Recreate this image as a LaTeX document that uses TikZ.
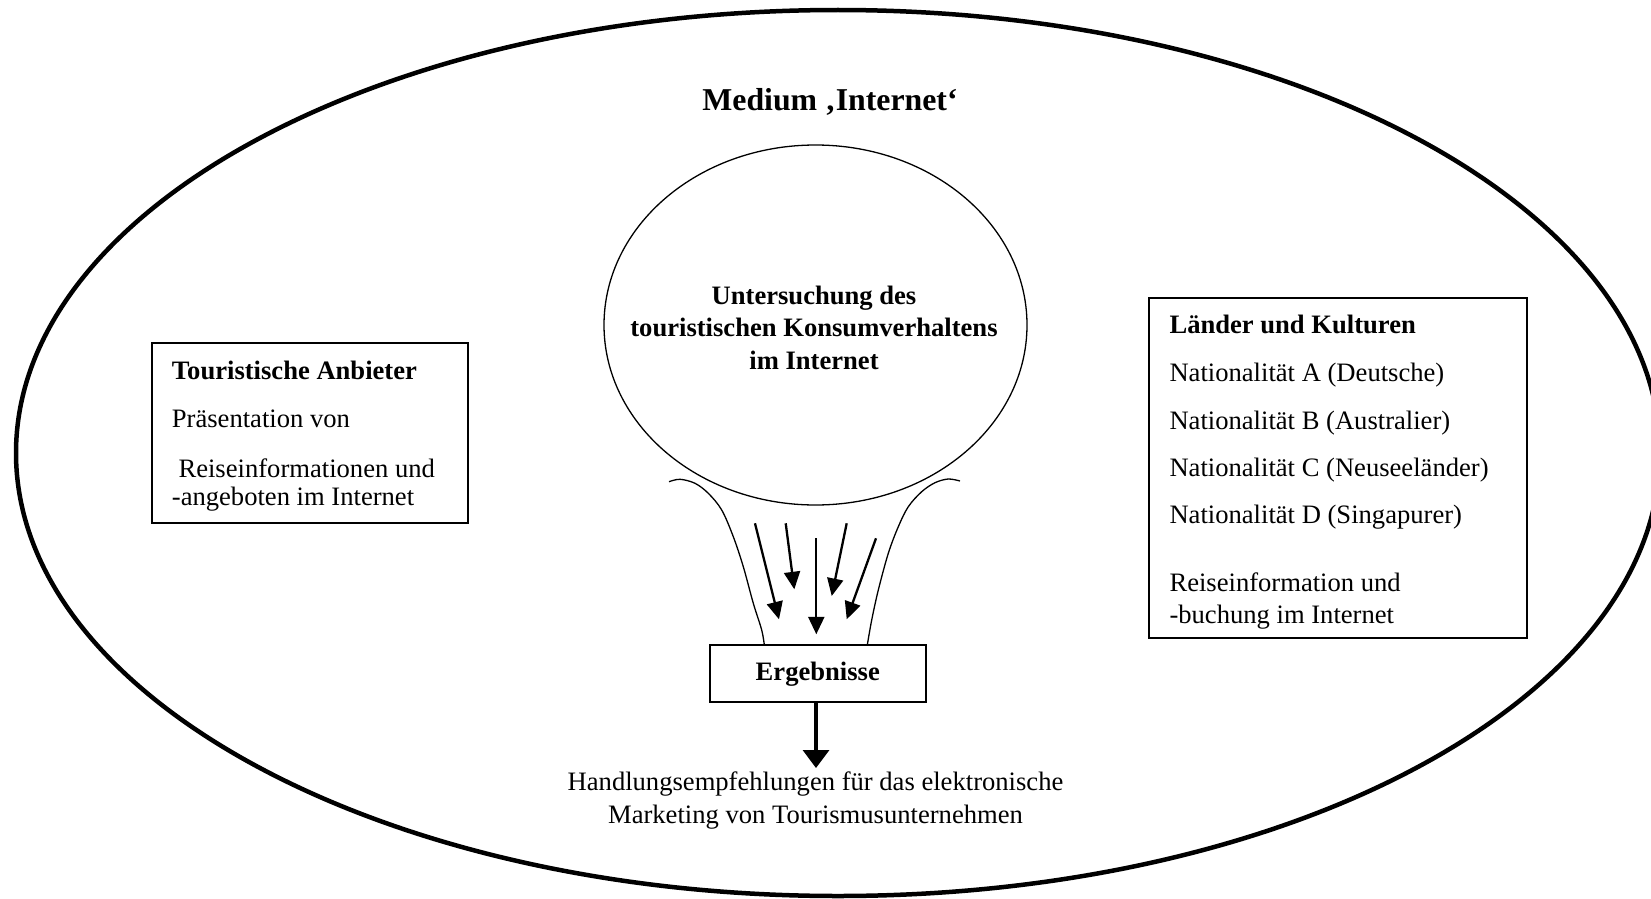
\documentclass[tikz,border=0pt]{standalone}
\usepackage{fontspec}
\setmainfont{Liberation Serif}
\usetikzlibrary{shapes.geometric,arrows.meta}

\begin{document}
\begin{tikzpicture}[x=1pt,y=-1pt,
  txt/.style={inner sep=0pt, font=\fontsize{26.6pt}{32.5pt}\selectfont},
  bold/.style={txt, font=\fontsize{26.6pt}{32.5pt}\selectfont\bfseries},
  heading/.style={txt, font=\fontsize{31.8pt}{36pt}\selectfont\bfseries},
  framebox/.style={draw, line width=1.6pt, inner sep=0pt},
  funnel/.style={line width=1.3pt},
  flow/.style={line width=2.3pt, -{Triangle[length=17.5pt,width=16pt]}},
  result/.style={line width=3.4pt, -{Triangle[length=18pt,width=26pt]}}]

\useasboundingbox (0,0) rectangle (1651,899);

% outer frame: the medium
\draw[line width=4.5pt] (838,453) ellipse [x radius=822pt, y radius=443pt];
\node[heading, anchor=base] (medium) at (830,110) {Medium ‚Internet‘};

% central study
\node[draw, ellipse, line width=1.3pt, minimum width=423pt, minimum height=360pt, inner sep=0pt] (study) at (815.5,325) {};
\node[bold, align=center, anchor=base] (studytxt) at (814,369)
  {Untersuchung des\\touristischen Konsumverhaltens\\im Internet};

% funnel below the study
\draw[funnel] plot[smooth, tension=0.55] coordinates {(669,481.7) (680,479.3) (695,483.3) (708.3,493.3) (721.7,510) (733.3,536.7) (743.3,566.7) (753.3,603.3) (761.7,630) (764.3,645)};
\draw[funnel] plot[smooth, tension=0.55] coordinates {(960,481) (948.3,479) (935,482.7) (921.7,491.7) (908.3,506.7) (898.3,526.7) (888.3,553.3) (878.3,590) (871.7,620) (867.3,645)};

% flows inside the funnel
\coordinate (f1s) at (755,523.3);   \coordinate (f1e) at (779,619.3);
\coordinate (f2s) at (785.7,523.3); \coordinate (f2e) at (794.3,589.3);
\coordinate (f3s) at (816.3,538.3); \coordinate (f3e) at (816.3,634.3);
\coordinate (f4s) at (846.7,523.3); \coordinate (f4e) at (831.7,596);
\coordinate (f5s) at (876,538.3);   \coordinate (f5e) at (846.7,619.3);
\draw[flow] (f1s) -- (f1e);
\draw[flow] (f2s) -- (f2e);
\draw[flow] (f3s) -- (f3e);
\draw[flow] (f4s) -- (f4e);
\draw[flow] (f5s) -- (f5e);

% results
\node[framebox, minimum width=216pt, minimum height=57pt] (results) at (817.8,673.3) {};
\node[bold, anchor=base] (resultstxt) at (817.8,680) {Ergebnisse};

\node[txt, align=center, anchor=base] (advice) at (815.5,823)
  {Handlungsempfehlungen für das elektronische\\Marketing von Tourismusunternehmen};
\coordinate (advtip) at (816,768);
\draw[result] (results.south -| advtip) -- (advtip);

% providers
\node[framebox, minimum width=316pt, minimum height=180pt] (providers) at (310,433) {};
\node[bold, anchor=base west] (prov1) at (171.7,379) {Touristische Anbieter};
\node[txt, anchor=base west] (prov2) at (171.7,427) {Präsentation von};
\node[txt, anchor=base west] (prov3) at (171.7,477) {\ Reiseinformationen und};
\node[txt, anchor=base west] (prov4) at (171.7,505) {-angeboten im Internet};

% countries and cultures
\node[framebox, minimum width=378pt, minimum height=340pt] (countries) at (1338,468) {};
\node[bold, anchor=base west] (c0) at (1169.3,333.3) {Länder und Kulturen};
\node[txt, anchor=base west] (c1) at (1169.3,381.7) {Nationalität A (Deutsche)};
\node[txt, anchor=base west] (c2) at (1169.3,429.3) {Nationalität B (Australier)};
\node[txt, anchor=base west] (c3) at (1169.3,476.7) {Nationalität C (Neuseeländer)};
\node[txt, anchor=base west] (c4) at (1169.3,523.3) {Nationalität D (Singapurer)};
\node[txt, anchor=base west] (c5) at (1169.3,591.7) {Reiseinformation und};
\node[txt, anchor=base west] (c6) at (1169.3,623.3) {-buchung im Internet};
\end{tikzpicture}
\end{document}
